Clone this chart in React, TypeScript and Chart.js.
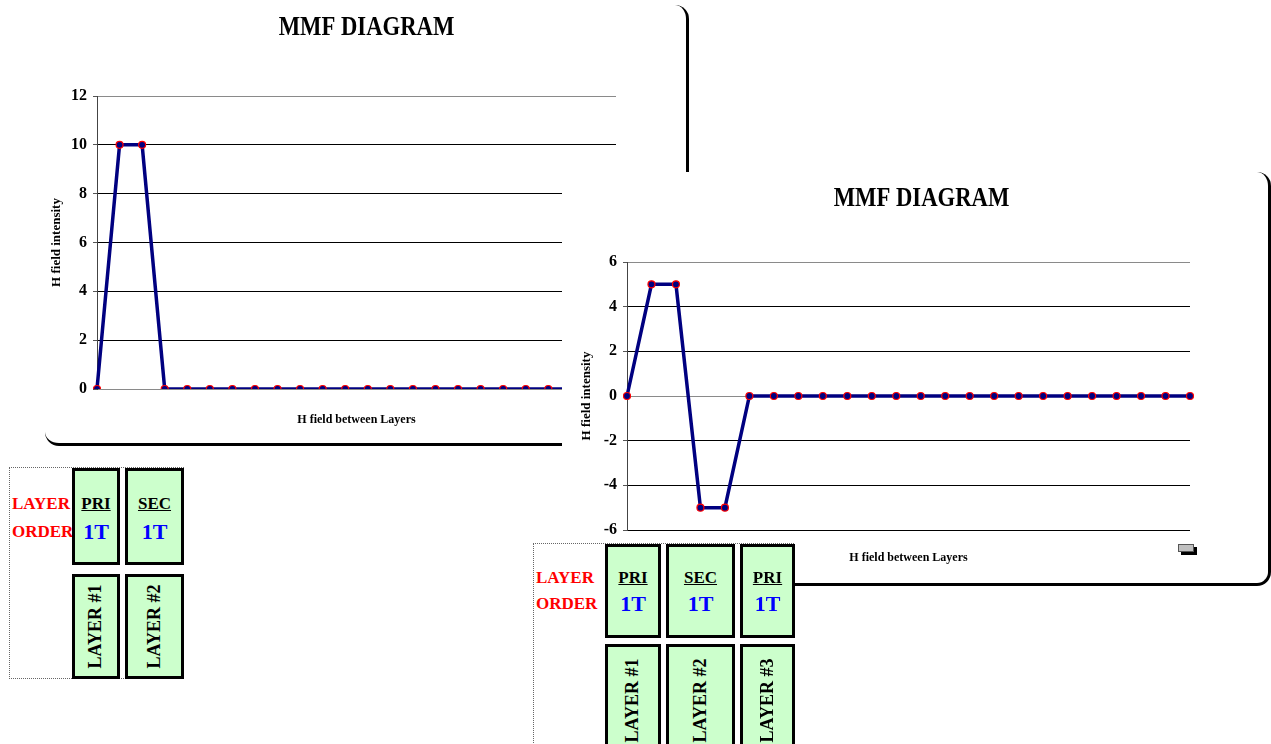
import React, { useEffect, useRef } from 'react';
import { Chart, registerables } from 'chart.js';

Chart.register(...registerables);

// ---------- data ----------
const categories = ['1', '2', '3', '4', '5', '6', '7', '8', '9', '10', '11', '12', '13', '14', '15', '16', '17', '18', '19', '20', '21', '22', '23', '24'];
const hFieldTwoLayers = [0, 10, 10, 0, 0, 0, 0, 0, 0, 0, 0, 0, 0, 0, 0, 0, 0, 0, 0, 0, 0, 0, 0, 0];
const hFieldThreeLayers = [0, 5, 5, -5, -5, 0, 0, 0, 0, 0, 0, 0, 0, 0, 0, 0, 0, 0, 0, 0, 0, 0, 0, 0];
const yTicksTwoLayers = [0, 2, 4, 6, 8, 10, 12];
const yTicksThreeLayers = [-6, -4, -2, 0, 2, 4, 6];
const chartTitle = 'MMF DIAGRAM';
const xAxisTitle = 'H field between Layers';
const yAxisTitle = 'H field intensity';
const layerKindsTwo = ['PRI', 'SEC'];
const layerTurnsTwo = ['1T', '1T'];
const layerNamesTwo = ['LAYER #1', 'LAYER #2'];
const layerKindsThree = ['PRI', 'SEC', 'PRI'];
const layerTurnsThree = ['1T', '1T', '1T'];
const layerNamesThree = ['LAYER #1', 'LAYER #2', 'LAYER #3'];

const SERIF = "'Liberation Serif', 'Times New Roman', serif";

type Box = { left: number; top: number; width: number; height: number };
type Plot = { top: number; right: number; yWidth: number; xHeight: number; xTitlePad: number; titleBaseline: number };

function MMFChart({ box, values, yTicks, plot }: { box: Box; values: number[]; yTicks: number[]; plot: Plot }) {
  const ref = useRef<HTMLCanvasElement>(null);
  useEffect(() => {
    if (!ref.current) return;
    const min = yTicks[0];
    const max = yTicks[yTicks.length - 1];
    const step = yTicks[1] - yTicks[0];
    const titlePlugin = {
      id: 'mmfTitle',
      afterDraw(chart: any) {
        const { ctx, width } = chart;
        ctx.save();
        ctx.translate(width / 2, plot.titleBaseline);
        ctx.scale(0.84, 1);
        ctx.font = `bold 27px ${SERIF}`;
        ctx.fillStyle = '#000';
        ctx.textAlign = 'center';
        ctx.textBaseline = 'alphabetic';
        ctx.fillText(chartTitle, 0, 0);
        ctx.restore();
      },
    };
    const chart = new Chart(ref.current, {
      type: 'line',
      data: {
        labels: categories,
        datasets: [
          {
            data: values,
            borderColor: '#000080',
            borderWidth: 3.5,
            pointRadius: 3.5,
            pointBackgroundColor: '#000080',
            pointBorderColor: '#ff0000',
            pointBorderWidth: 1.2,
            tension: 0,
            fill: false,
          },
        ],
      },
      options: {
        animation: false,
        responsive: false,
        maintainAspectRatio: false,
        layout: { padding: { left: 0, top: plot.top, right: plot.right, bottom: 0 } },
        plugins: {
          legend: { display: false },
          tooltip: { enabled: false },
          title: { display: false },
        },
        scales: {
          x: {
            type: 'category',
            offset: false,
            grid: { display: false },
            border: { display: false },
            ticks: { display: false },
            title: {
              display: true,
              text: xAxisTitle,
              color: '#000',
              font: { family: SERIF, size: 12, weight: 'bold' },
              padding: { top: 0, bottom: plot.xTitlePad },
            },
            afterFit: (s: any) => {
              s.height = plot.xHeight;
            },
          },
          y: {
            min,
            max,
            ticks: {
              stepSize: step,
              color: '#000',
              font: { family: SERIF, size: 16, weight: 'bold' },
              padding: 6,
            },
            grid: {
              color: (c: any) => (c.tick && (c.tick.value === 0 || c.tick.value === max) ? '#8a8a8a' : '#000'),
              lineWidth: 1,
              drawTicks: true,
              tickLength: 4,
              tickColor: '#555',
            },
            border: { display: true, color: '#444', width: 1 },
            title: {
              display: true,
              text: yAxisTitle,
              color: '#000',
              font: { family: SERIF, size: 13, weight: 'bold' },
              padding: { top: 4, bottom: 0 },
            },
            afterFit: (s: any) => {
              s.width = plot.yWidth;
            },
          },
        },
      } as any,
      plugins: [titlePlugin],
    });
    return () => chart.destroy();
  }, []);
  return (
    <canvas
      ref={ref}
      width={box.width}
      height={box.height}
      style={{ position: 'absolute', left: box.left, top: box.top, width: box.width, height: box.height }}
    />
  );
}

type Col = { left: number; width: number };
function LayerTable({
  box,
  cols,
  topRow,
  bottomRow,
  labelY,
  kinds,
  turns,
  names,
}: {
  box: Box;
  cols: Col[];
  topRow: { top: number; height: number };
  bottomRow: { top: number; height: number };
  labelY: [number, number];
  kinds: string[];
  turns: string[];
  names: string[];
}) {
  const cellStyle: React.CSSProperties = {
    position: 'absolute',
    boxSizing: 'border-box',
    border: '3px solid #000',
    background: '#ccffcc',
  };
  const textLine = (y: number): React.CSSProperties => ({
    position: 'absolute',
    left: 0,
    right: 0,
    top: y - 12,
    height: 24,
    lineHeight: '24px',
    textAlign: 'center',
    fontFamily: SERIF,
    fontWeight: 'bold',
    whiteSpace: 'nowrap',
  });
  return (
    <div
      style={{
        position: 'absolute',
        left: box.left,
        top: box.top,
        width: box.width,
        height: box.height,
        boxSizing: 'border-box',
        background: '#fff',
        borderLeft: '1px dotted #666',
        borderTop: '1px dotted #666',
        borderBottom: '1px dotted #666',
      }}
    >
      <div style={{ ...textLine(labelY[0]), textAlign: 'left', left: 2, color: '#ff0000', fontSize: 17 }}>LAYER</div>
      <div style={{ ...textLine(labelY[1]), textAlign: 'left', left: 2, color: '#ff0000', fontSize: 17 }}>ORDER</div>
      {cols.map((c, i) => (
        <React.Fragment key={i}>
          <div style={{ ...cellStyle, left: c.left, width: c.width, top: topRow.top, height: topRow.height }}>
            <div style={{ ...textLine(labelY[0] - 3), color: '#000', fontSize: 17, textDecoration: 'underline' }}>{kinds[i]}</div>
            <div style={{ ...textLine(labelY[1] - 3), color: '#0000ff', fontSize: 22 }}>{turns[i]}</div>
          </div>
          <div
            style={{
              ...cellStyle,
              left: c.left,
              width: c.width,
              top: bottomRow.top,
              height: bottomRow.height,
              display: 'flex',
              alignItems: 'center',
              justifyContent: 'center',
              overflow: 'hidden',
            }}
          >
            <span
              style={{
                display: 'inline-block',
                transform: 'rotate(-90deg)',
                whiteSpace: 'nowrap',
                fontFamily: SERIF,
                fontWeight: 'bold',
                fontSize: 18,
                color: '#000',
              }}
            >
              {names[i]}
            </span>
          </div>
        </React.Fragment>
      ))}
    </div>
  );
}

export default function App() {
  return (
    <div style={{ position: 'absolute', left: 0, top: 0, width: 1271, height: 744, overflow: 'hidden', background: '#fff' }}>
      {/* chart 1 frame */}
      <div
        style={{
          position: 'absolute',
          left: 45,
          top: 5,
          width: 644,
          height: 441,
          boxSizing: 'border-box',
          borderRight: '3px solid #000',
          borderBottom: '3px solid #000',
          borderRadius: 14,
        }}
      />
      <MMFChart
        box={{ left: 45, top: 0, width: 643, height: 440 }}
        values={hFieldTwoLayers}
        yTicks={yTicksTwoLayers}
        plot={{ top: 96, right: 72, yWidth: 52, xHeight: 51, xTitlePad: 12.8, titleBaseline: 35 }}
      />
      {/* chart 2 frame */}
      <div
        style={{
          position: 'absolute',
          left: 562,
          top: 172,
          width: 709,
          height: 414,
          boxSizing: 'border-box',
          background: '#fff',
          borderRight: '3px solid #000',
          borderBottom: '3px solid #000',
          borderRadius: 14,
        }}
      />
      <MMFChart
        box={{ left: 575, top: 172, width: 693, height: 410 }}
        values={hFieldThreeLayers}
        yTicks={yTicksThreeLayers}
        plot={{ top: 90, right: 78, yWidth: 52, xHeight: 52, xTitlePad: 16.8, titleBaseline: 34 }}
      />
      {/* small legend-key icon */}
      <div
        style={{
          position: 'absolute',
          left: 1178,
          top: 544,
          width: 14,
          height: 6,
          background: '#c0c0c0',
          border: '1px solid #555',
          boxShadow: '3px 3px 0 #000',
        }}
      />
      <LayerTable
        box={{ left: 9, top: 467, width: 175, height: 212 }}
        cols={[
          { left: 62, width: 48 },
          { left: 115, width: 59 },
        ]}
        topRow={{ top: 0, height: 97 }}
        bottomRow={{ top: 106, height: 105 }}
        labelY={[36, 64]}
        kinds={layerKindsTwo}
        turns={layerTurnsTwo}
        names={layerNamesTwo}
      />
      <LayerTable
        box={{ left: 533, top: 543, width: 261, height: 230 }}
        cols={[
          { left: 71, width: 56 },
          { left: 132, width: 69 },
          { left: 206, width: 55 },
        ]}
        topRow={{ top: 0, height: 94 }}
        bottomRow={{ top: 100, height: 112 }}
        labelY={[34, 60]}
        kinds={layerKindsThree}
        turns={layerTurnsThree}
        names={layerNamesThree}
      />
    </div>
  );
}
